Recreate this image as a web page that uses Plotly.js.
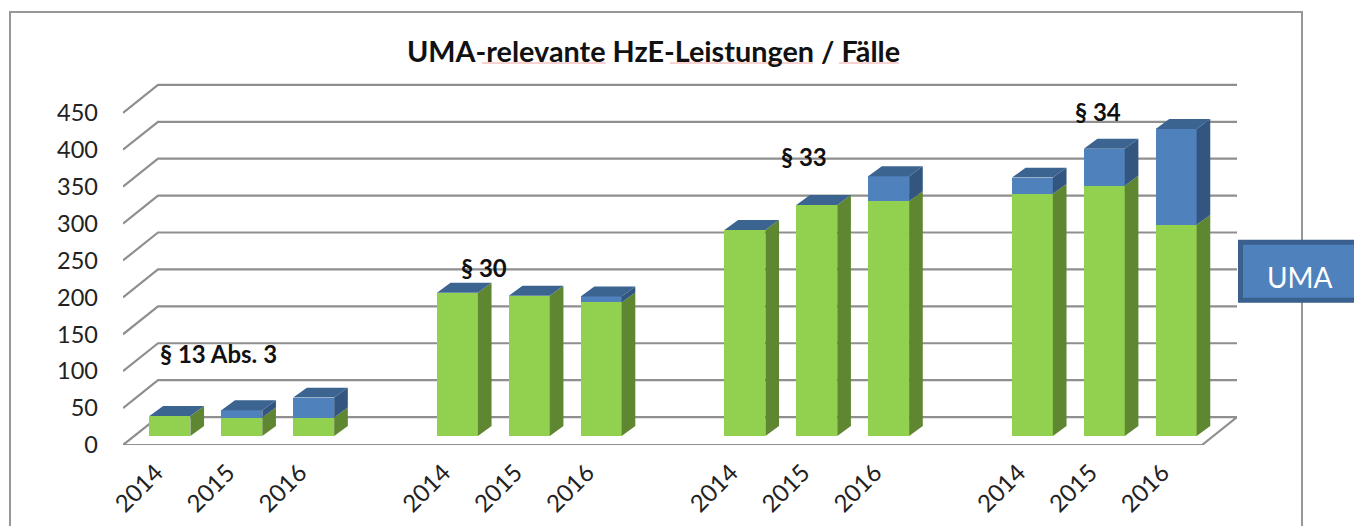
<!DOCTYPE html>
<html>
<head>
<meta charset="utf-8">
<script src="https://cdn.plot.ly/plotly-3.0.1.min.js"></script>
<style>html,body{margin:0;padding:0;background:#fff;overflow:hidden}</style>
</head>
<body>
<div id="chart" style="width:1354px;height:526px"></div>
<script>
// Data
const slots = [0,1,2, 4,5,6, 8,9,10, 12,13,14];
const years = ['2014','2015','2016','2014','2015','2016','2014','2015','2016','2014','2015','2016'];
const green = [27,25,25, 194,190,181, 279,313,318, 328,339,286];
const blue  = [0,10,27, 0,0,8, 0,0,34, 22,50,130];
const ticks = [0,50,100,150,200,250,300,350,400,450];
const groupLabels = ['§ 13 Abs. 3','§ 30','§ 33','§ 34'];
const groupLabelSlot = [0.68,4.37,8.82,12.91];
const groupLabelValue = [112,228,378,439];

// Geometry of the pseudo-3D view (slots on x, value units on y)
const W=1354,H=526,L=123,R=1237,T=79,B=445.5;
const Xmin=-0.5,Xmax=15,Ymax=495.8;
const wallDx=0.487,wallDy=37.85;      // floor depth
const planeDx=0.153,planeDy=12.2;     // bar plane behind the front edge
const barW=0.57,barDx=0.19,barDy=13.5;// bar depth
const labelShift=0.04;                // rotated year labels sit slightly left of their slot

const gridLine={color:'#8f8f8f',width:2.2};
const traces=[];
const gx=[],gy=[];
ticks.forEach(v=>{
  if(v===0){
    gx.push(Xmin+wallDx,Xmax,Xmax-wallDx,Xmin,Xmin+wallDx,null);
    gy.push(wallDy,wallDy,0,0,wallDy,null);
  }else{
    gx.push(Xmin,Xmin+wallDx,Xmax,null);
    gy.push(v,v+wallDy,v+wallDy,null);
  }
});
traces.push({type:'scatter',mode:'lines',x:gx,y:gy,line:gridLine,hoverinfo:'skip',xaxis:'x',yaxis:'y',showlegend:false});

traces.push({type:'bar',x:slots,y:green,width:barW,marker:{color:'#92D050',line:{width:0}},xaxis:'x2',yaxis:'y2',name:'Gesamt',showlegend:false});
traces.push({type:'bar',x:slots,y:blue,width:barW,marker:{color:'#4F81BD',line:{width:0}},xaxis:'x2',yaxis:'y2',name:'UMA',showlegend:false});

function poly(color,build){
  const xs=[],ys=[];
  slots.forEach((s,i)=>build(s,i,xs,ys));
  traces.push({type:'scatter',mode:'lines',x:xs,y:ys,fill:'toself',fillcolor:color,line:{width:0,color:color},hoverinfo:'skip',xaxis:'x2',yaxis:'y2',showlegend:false});
}
function side(s,lo,hi,xs,ys){
  const xr=s+barW/2;
  xs.push(xr,xr+barDx,xr+barDx,xr,xr,null);
  ys.push(lo,lo+barDy,hi+barDy,hi,lo,null);
}
poly('#5F8731',(s,i,xs,ys)=>side(s,0,green[i],xs,ys));
poly('#325680',(s,i,xs,ys)=>{ if(blue[i]>0) side(s,green[i],green[i]+blue[i],xs,ys); });
poly('#3C6491',(s,i,xs,ys)=>{
  const xl=s-barW/2,xr=s+barW/2,t=green[i]+blue[i];
  xs.push(xl,xr,xr+barDx,xl+barDx,xl,null);
  ys.push(t,t,t+barDy,t+barDy,t,null);
});

const px=x=>(x-L)/(R-L), py=y=>(B-y)/(B-T);
const squiggle=(a,b)=>({type:'line',xref:'paper',yref:'paper',x0:px(a),x1:px(b),y0:py(63),y1:py(63),line:{color:'#F2A3A3',width:1.2},layer:'above'});
const layout={
  width:W,height:H,
  margin:{l:L,r:W-R,t:T,b:H-B,pad:0},
  paper_bgcolor:'#fff',plot_bgcolor:'rgba(0,0,0,0)',
  barmode:'stack',showlegend:false,
  font:{family:'Lato, "Open Sans", sans-serif',color:'#111'},
  xaxis:{range:[Xmin,Xmax],tickmode:'array',tickvals:slots.map(s=>s-labelShift),ticktext:years,tickangle:-45,ticks:'',showgrid:false,zeroline:false,showline:false,tickfont:{size:24,color:'#222'},ticklabelstandoff:8},
  yaxis:{range:[0,Ymax],tickmode:'array',tickvals:ticks,ticktext:ticks.map(String),ticks:'',showgrid:false,zeroline:false,showline:false,tickfont:{size:23.5,color:'#222'},ticklabelstandoff:24},
  xaxis2:{overlaying:'x',range:[Xmin-planeDx,Xmax-planeDx],visible:false},
  yaxis2:{overlaying:'y',range:[-planeDy,Ymax-planeDy],visible:false},
  title:{text:'<b>UMA-relevante HzE-Leistungen / Fälle</b>',font:{size:28.8,color:'#111'},x:653.5/W,xanchor:'center',y:1-52/H,yanchor:'middle'},
  annotations:groupLabels.map((t,i)=>({text:'<b>'+t+'</b>',x:groupLabelSlot[i],y:groupLabelValue[i],xref:'x2',yref:'y2',showarrow:false,font:{size:24,color:'#111'},xanchor:'center',yanchor:'middle'})).concat([
    {text:'UMA',xref:'paper',yref:'paper',x:px(1300),y:py(277),showarrow:false,font:{size:28,color:'#fff'},xanchor:'center',yanchor:'middle'}
  ]),
  shapes:[
    {type:'rect',xref:'paper',yref:'paper',x0:px(10),x1:px(1302),y0:py(12),y1:py(540),line:{color:'#979797',width:2},fillcolor:'rgba(0,0,0,0)',layer:'below'},
    {type:'rect',xref:'paper',yref:'paper',x0:px(1240.5),x1:px(1370),y0:py(242.5),y1:py(300.5),line:{color:'#3A6090',width:5},fillcolor:'#4F81BD',layer:'above'},
    squiggle(482,606),squiggle(670,813),squiggle(839,899)
  ]
};
Plotly.newPlot('chart',traces,layout,{displayModeBar:false,staticPlot:true});
</script>
</body>
</html>
